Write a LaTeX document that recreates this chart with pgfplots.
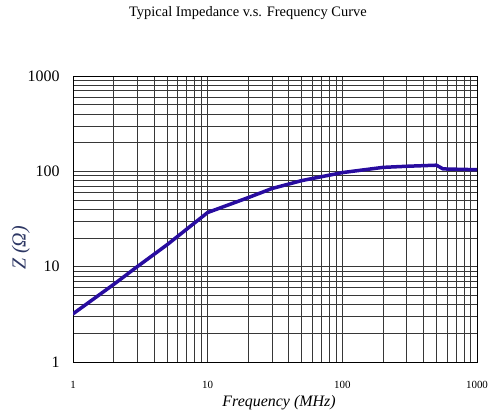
\documentclass[border=0pt]{standalone}
\usepackage{fontspec}
\setmainfont{Liberation Serif}
\usepackage{pgfplots}
\pgfplotsset{compat=1.18}
\definecolor{curve}{RGB}{40,12,160}
\definecolor{gridc}{RGB}{55,55,55}
\definecolor{ylab}{RGB}{45,55,100}
\begin{document}
\begin{tikzpicture}
\useasboundingbox (0,0) rectangle (490bp,411bp);
\begin{axis}[
  at={(73bp,49bp)}, anchor=south west,
  scale only axis, width=404bp, height=286bp,
  xmode=log, ymode=log, xmin=1, xmax=1000, ymin=1, ymax=1000,
  xtick={1,10,100,1000}, xticklabels={1,10,100,1000},
  ytick={1,10,100,1000}, yticklabels={1,10,100,1000},
  minor xtick={2,3,4,5,6,7,8,9,20,30,40,50,60,70,80,90,200,300,400,500,600,700,800,900},
  minor ytick={2,3,4,5,6,7,8,9,20,30,40,50,60,70,80,90,200,300,400,500,600,700,800,900},
  grid=both,
  major grid style={gridc, line width=0.8bp},
  minor grid style={gridc, line width=0.7bp},
  tick style={draw=none},
  axis line style={black, line width=1bp},
  /pgf/number format/assume math mode=true,
  yticklabel style={font=\fontsize{16}{16}\selectfont, xshift=-10bp},
  xticklabel style={font=\fontsize{11}{11}\selectfont, yshift=-16bp},
  xlabel={\textit{Frequency (MHz)}},
  xlabel style={at={(axis description cs:0.51,0)}, anchor=base, yshift=-44bp, font=\fontsize{16}{16}\selectfont},
  ylabel={\textit{Z (Ω)}},
  ylabel style={at={(axis description cs:-0.129,0.399)}, anchor=center, font=\fontsize{20}{20}\selectfont, text=ylab},
  title={Typical Impedance v.s. Frequency Curve},
  title style={at={(axis description cs:0.433,1)}, anchor=base, yshift=54bp, font=\fontsize{14.5}{14.5}\selectfont},
]
\addplot[curve, line width=3.5bp, line join=round, line cap=round] coordinates {
  (1,3.2) (2,6.5) (3,10) (5,17) (10,37) (20,53) (30,66) (50,80) (100,97)
  (200,110) (300,113) (500,116) (560,106) (1000,104)
};
\end{axis}
\end{tikzpicture}
\end{document}
